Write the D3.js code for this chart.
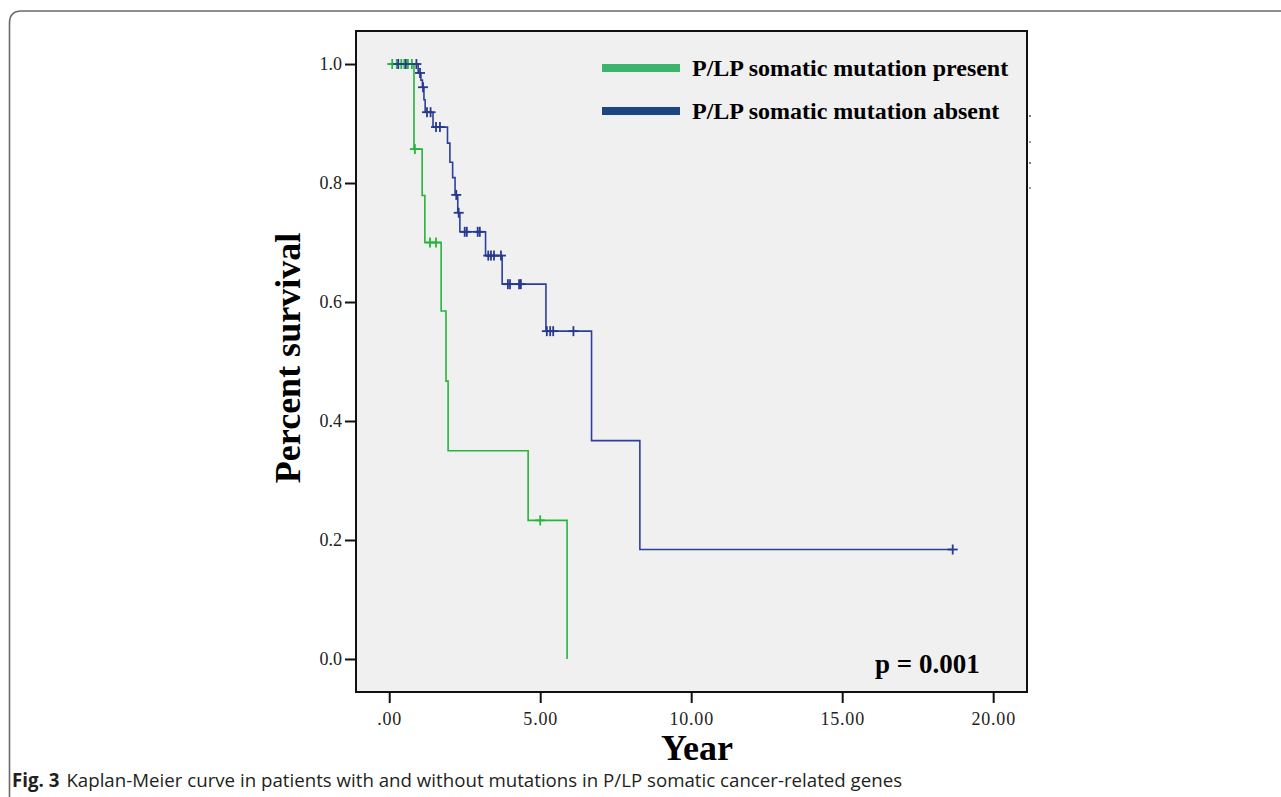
<!DOCTYPE html>
<html>
<head>
<meta charset="utf-8">
<script src="https://cdn.jsdelivr.net/npm/d3@7/dist/d3.min.js"></script>
<style>
  html, body { margin: 0; padding: 0; background: #ffffff; }
  svg { display: block; }
</style>
</head>
<body>
<svg id="chart" width="1281" height="797"></svg>
<script>
// ---------------- data ----------------
const groupNames = ["P/LP somatic mutation present", "P/LP somatic mutation absent"];

const presentTimes = [0, 0.82, 1.09, 1.18, 1.72, 1.88, 1.95, 4.60, 5.89];
const presentSurv  = [1.0, 0.857, 0.779, 0.700, 0.585, 0.467, 0.350, 0.233, 0.0];
const presentCensor = [0.10, 0.25, 0.40, 0.50, 0.62, 0.75, 0.85, 1.35, 1.55, 5.00];

const absentTimes = [0, 0.96, 1.05, 1.10, 1.15, 1.19, 1.45, 1.93, 2.01, 2.10, 2.18, 2.27, 2.34, 3.19, 3.74, 5.19, 6.70, 8.30, 18.66];
const absentSurv  = [1.0, 0.985, 0.973, 0.961, 0.940, 0.919, 0.894, 0.867, 0.835, 0.809, 0.780, 0.750, 0.718, 0.678, 0.630, 0.551, 0.367, 0.184, 0.184];
const absentCensor = [0.30, 0.55, 0.90, 1.02, 1.12, 1.25, 1.37, 1.55, 1.68, 2.22, 2.30, 2.50, 2.57, 2.93, 3.00,
                      3.28, 3.37, 3.47, 3.70, 3.93, 4.00, 4.30, 4.36, 5.22, 5.33, 5.43, 6.10, 18.66];

const xTicks = [0, 5, 10, 15, 20];
const xTickLabels = [".00", "5.00", "10.00", "15.00", "20.00"];
const yTicks = [0, 0.2, 0.4, 0.6, 0.8, 1.0];
const yTickLabels = ["0.0", "0.2", "0.4", "0.6", "0.8", "1.0"];

const xTitle = "Year";
const yTitle = "Percent survival";
const pText = "p = 0.001";
const captionBold = "Fig. 3";
const captionText = "Kaplan-Meier curve in patients with and without mutations in P/LP somatic cancer-related genes";

// ---------------- layout ----------------
const svg = d3.select("#chart");
const frame = { left: 356, right: 1027, top: 31, bottom: 692 };

const x = d3.scaleLinear().domain([-1.10, 21.12]).range([frame.left, frame.right]);
const y = d3.scaleLinear().domain([-0.0555, 1.0555]).range([frame.bottom, frame.top]);

const serif = "'Liberation Serif', 'Times New Roman', serif";

// card border
svg.append("path")
  .attr("d", "M9.5,797 V23 Q9.5,11 21.5,11 H1281")
  .attr("fill", "none")
  .attr("stroke", "#6b6b6b")
  .attr("stroke-width", 1.6);

// plot frame
svg.append("rect")
  .attr("x", frame.left).attr("y", frame.top)
  .attr("width", frame.right - frame.left).attr("height", frame.bottom - frame.top)
  .attr("fill", "#f0f0f0")
  .attr("stroke", "#111").attr("stroke-width", 2);

// axes
const yAxis = d3.axisLeft(y).tickValues(yTicks)
  .tickFormat((d, i) => yTickLabels[i]).tickSize(11).tickPadding(3);
const gy = svg.append("g").attr("transform", `translate(${frame.left},0)`).call(yAxis);
gy.select(".domain").remove();
gy.selectAll(".tick line").attr("stroke", "#111").attr("stroke-width", 2);
gy.selectAll(".tick text").attr("font-family", serif).attr("font-size", 18).attr("fill", "#222");

const xAxis = d3.axisBottom(x).tickValues(xTicks)
  .tickFormat((d, i) => xTickLabels[i]).tickSize(11).tickPadding(9);
const gx = svg.append("g").attr("transform", `translate(0,${frame.bottom})`).call(xAxis);
gx.select(".domain").remove();
gx.selectAll(".tick line").attr("stroke", "#111").attr("stroke-width", 2);
gx.selectAll(".tick text").attr("font-family", serif).attr("font-size", 18)
  .attr("fill", "#222").attr("letter-spacing", "0.8px");

// axis titles
svg.append("text")
  .attr("transform", "translate(300,358) rotate(-90)")
  .attr("text-anchor", "middle")
  .attr("font-family", serif).attr("font-weight", "bold").attr("font-size", 36)
  .attr("fill", "#000")
  .text(yTitle);

svg.append("text")
  .attr("x", 697).attr("y", 760)
  .attr("text-anchor", "middle")
  .attr("font-family", serif).attr("font-weight", "bold").attr("font-size", 36)
  .attr("fill", "#000")
  .text(xTitle);

// curves
const groups = [
  { times: presentTimes, surv: presentSurv, censor: presentCensor, color: "#25b43c", mark: "#25b43c" },
  { times: absentTimes, surv: absentSurv, censor: absentCensor, color: "#2c3f9c", mark: "#27388f" }
];

const line = d3.line().x(d => x(d[0])).y(d => y(d[1])).curve(d3.curveStepAfter);

function survAt(g, t) {
  let v = g.surv[0];
  for (let i = 0; i < g.times.length; i++) {
    if (g.times[i] <= t) v = g.surv[i];
  }
  return v;
}

groups.forEach(g => {
  const pts = g.times.map((t, i) => [t, g.surv[i]]);
  svg.append("path")
    .attr("d", line(pts))
    .attr("fill", "none")
    .attr("stroke", g.color)
    .attr("stroke-width", 1.6);
});

groups.forEach(g => {
  const cg = svg.append("g");
  g.censor.forEach(t => {
    const cx = x(t), cy = y(survAt(g, t));
    cg.append("line").attr("x1", cx).attr("x2", cx).attr("y1", cy - 5).attr("y2", cy + 5)
      .attr("stroke", g.mark).attr("stroke-width", 1.8);
    cg.append("line").attr("x1", cx - 5).attr("x2", cx + 5).attr("y1", cy).attr("y2", cy)
      .attr("stroke", g.mark).attr("stroke-width", 1.8);
  });
});

// legend
const legendColors = ["#3bb46c", "#1c4584"];
const legendY = [68, 111];
groupNames.forEach((name, i) => {
  svg.append("rect")
    .attr("x", 602).attr("y", legendY[i] - 4).attr("width", 78).attr("height", 8)
    .attr("fill", legendColors[i]);
  svg.append("text")
    .attr("x", 692).attr("y", legendY[i] + 8)
    .attr("font-family", serif).attr("font-weight", "bold").attr("font-size", 24)
    .attr("fill", "#000")
    .text(name);
});

// small artefact marks right of the frame
const sideMarks = [[116, "#7080a0"], [142, "#80b090"], [163, "#7080a0"], [188, "#80b090"]];
sideMarks.forEach(d => {
  svg.append("rect").attr("x", 1029).attr("y", d[0] - 1).attr("width", 2).attr("height", 2).attr("fill", d[1]);
});

// p value
svg.append("text")
  .attr("x", 875).attr("y", 673)
  .attr("font-family", serif).attr("font-weight", "bold").attr("font-size", 27)
  .attr("fill", "#000")
  .text(pText);

// caption
const cap = svg.append("text")
  .attr("x", 12).attr("y", 787)
  .attr("font-family", "'Open Sans', 'Noto Sans', sans-serif").attr("font-size", 18.7)
  .attr("fill", "#231f20");
cap.append("tspan").attr("font-weight", "bold").text(captionBold);
cap.append("tspan").attr("dx", 7).text(captionText);
</script>
</body>
</html>
